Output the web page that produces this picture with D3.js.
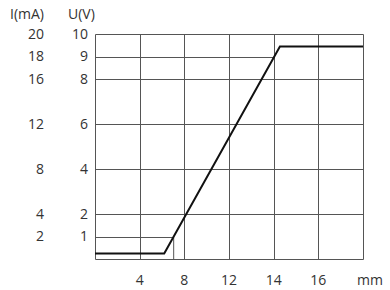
<!DOCTYPE html>
<meta charset="utf-8">
<style>
body { margin: 0; background: #fff; }
text { font: 14px "Open Sans", sans-serif; fill: #333; }
.grid line { stroke: #555; stroke-width: 1; }
.curve { fill: none; stroke: #111; stroke-width: 2; }
</style>
<body>
<script src="https://cdn.jsdelivr.net/npm/d3@7"></script>
<script>

// stroke positions along the x axis (mm); the original grid is evenly spaced
var strokeSteps = [0, 4, 8, 12, 14, 16, 18];
var strokeLabels = [4, 8, 12, 14, 16];

// voltage gridlines and the matching current labels
var voltTicks = [10, 9, 8, 6, 4, 2, 1];
var currentTicks = [20, 18, 16, 12, 8, 4, 2];

// output curve: stroke (mm) -> U (V)
var stroke = [0, 6.2, 14.28, 18];
var volts = [0.25, 0.25, 9.44, 9.44];

// helper lines drawn only up to the curve; only 1 V gets a drop line
var guideVolts = [1, 9];
var dropVolts = [1];

var width = 390,
    height = 290,
    plot = {left: 95, right: 363, top: 34, bottom: 259};

var svg = d3.select("body").append("svg")
    .attr("width", width)
    .attr("height", height);

var xStep = (plot.right - plot.left) / (strokeSteps.length - 1);
var x = d3.scaleLinear()
    .domain(strokeSteps)
    .range(strokeSteps.map(function(d, i) { return plot.left + i * xStep; }));

var y = d3.scaleLinear()
    .domain([0, 10])
    .range([plot.bottom, plot.top]);

var grid = svg.append("g").attr("class", "grid");

// vertical lines, full height
grid.selectAll(".v")
    .data(strokeSteps)
  .enter().append("line")
    .attr("x1", function(d) { return Math.round(x(d)) + 0.5; })
    .attr("x2", function(d) { return Math.round(x(d)) + 0.5; })
    .attr("y1", y(0) + 0.5)
    .attr("y2", y(10) + 0.5);

// horizontal lines, full width (except the guide ones)
grid.selectAll(".h")
    .data(voltTicks.filter(function(d) { return guideVolts.indexOf(d) < 0; }).concat([0]))
  .enter().append("line")
    .attr("x1", x(0) + 0.5)
    .attr("x2", x(18) + 0.5)
    .attr("y1", function(d) { return Math.round(y(d)) + 0.5; })
    .attr("y2", function(d) { return Math.round(y(d)) + 0.5; });

var pts = stroke.map(function(d, i) { return [x(d), y(volts[i])]; });

// where the ramp crosses a given voltage, in pixels
function crossAt(v) {
  var py = y(v), a = pts[1], b = pts[2];
  return a[0] + (py - a[1]) / (b[1] - a[1]) * (b[0] - a[0]);
}

guideVolts.forEach(function(v) {
  var cx = crossAt(v), py = Math.round(y(v)) + 0.5;
  grid.append("line")
      .attr("x1", x(0) + 0.5).attr("x2", cx)
      .attr("y1", py).attr("y2", py);
  if (dropVolts.indexOf(v) >= 0) {
    grid.append("line")
        .attr("x1", cx).attr("x2", cx)
        .attr("y1", py).attr("y2", y(0) + 0.5);
  }
});

svg.append("path")
    .attr("class", "curve")
    .attr("d", d3.line()(pts));

// y labels
svg.selectAll(".u")
    .data(voltTicks)
  .enter().append("text")
    .attr("x", 88)
    .attr("y", function(d) { return y(d); })
    .attr("dy", "0.35em")
    .attr("text-anchor", "end")
    .text(function(d) { return d; });

svg.selectAll(".i")
    .data(currentTicks)
  .enter().append("text")
    .attr("x", 44)
    .attr("y", function(d) { return y(d / 2); })
    .attr("dy", "0.35em")
    .attr("text-anchor", "end")
    .text(function(d) { return d; });

svg.append("text").attr("x", 10).attr("y", 19).text("I(mA)");
svg.append("text").attr("x", 68).attr("y", 19).text("U(V)");

// x labels
svg.selectAll(".xl")
    .data(strokeLabels)
  .enter().append("text")
    .attr("x", function(d) { return x(d); })
    .attr("y", 280)
    .attr("dy", "0.35em")
    .attr("text-anchor", "middle")
    .text(function(d) { return d; });

svg.append("text")
    .attr("x", 370)
    .attr("y", 280)
    .attr("dy", "0.35em")
    .attr("text-anchor", "middle")
    .text("mm");

</script>
